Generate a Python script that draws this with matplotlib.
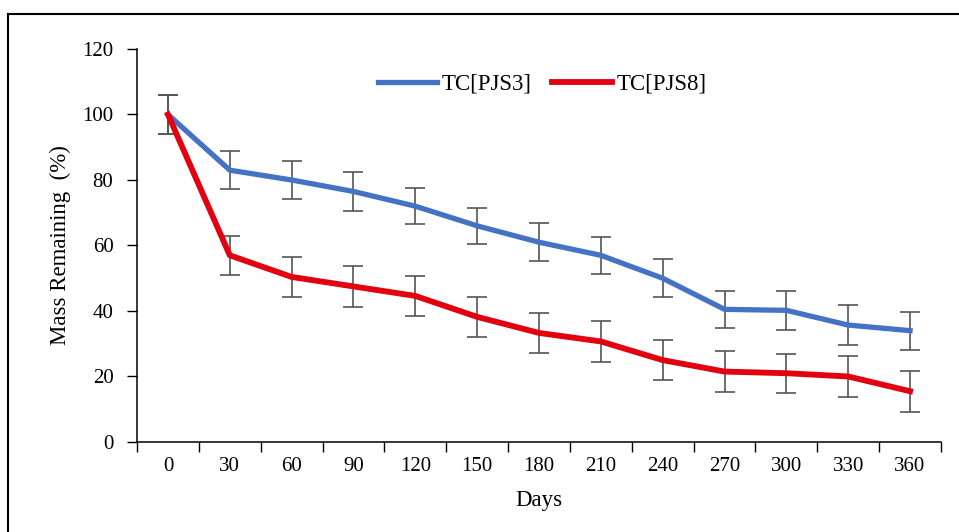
import numpy as np
import matplotlib.pyplot as plt
from matplotlib.lines import Line2D

plt.rcParams['font.family'] = ['Liberation Serif', 'DejaVu Serif']

# Данные
days = ['0', '30', '60', '90', '120', '150', '180', '210', '240', '270', '300', '330', '360']
pjs3 = [100, 83, 80, 76.5, 72, 66, 61, 57, 50, 40.5, 40.2, 35.7, 34]
pjs3_err = [6, 5.8, 5.8, 6, 5.5, 5.5, 5.8, 5.7, 5.8, 5.7, 6, 6, 5.8]
pjs8 = [100, 57, 50.4, 47.5, 44.6, 38.2, 33.3, 30.7, 25, 21.5, 21, 20, 15.5]
pjs8_err = [6, 6, 6.2, 6.2, 6.2, 6.2, 6.2, 6.2, 6.2, 6.2, 6, 6.2, 6.2]

fig = plt.figure(figsize=(9.59, 5.32), dpi=100)
ax = fig.add_axes([0.1429, 0.1692, 0.8383, 0.7387])

x = np.arange(len(days))
ax.errorbar(x, pjs3, yerr=pjs3_err, color='#4472C4', lw=3.8, ecolor='#555555',
            elinewidth=1.2, capsize=7, capthick=1.2, label='TC[PJS3]', zorder=3)
ax.errorbar(x, pjs8, yerr=pjs8_err, color='#E3000F', lw=4.2, ecolor='#555555',
            elinewidth=1.2, capsize=7, capthick=1.2, label='TC[PJS8]', zorder=3)

ax.set_xlim(-0.5, len(days) - 0.5)
ax.set_ylim(0, 120)
ax.set_yticks(np.arange(0, 121, 20))
ax.set_xticks(np.arange(-0.5, len(days), 1))
ax.set_xticklabels([])
ax.set_xticks(x, minor=True)
ax.set_xticklabels(days, minor=True)
ax.tick_params(axis='x', which='major', direction='out', length=7, width=1)
ax.tick_params(axis='x', which='minor', length=0, pad=11, labelsize=15)
ax.tick_params(axis='y', direction='out', length=7, width=1, labelsize=15, pad=10)

for s in ['top', 'right']:
    ax.spines[s].set_visible(False)
for s in ['left', 'bottom']:
    ax.spines[s].set_linewidth(1.1)

ax.set_xlabel('Days', fontsize=16.5, labelpad=10)
ax.set_ylabel('Mass Remaining  (%)', fontsize=16.5, labelpad=8)

handles = [Line2D([], [], color='#4472C4', lw=3.8),
           Line2D([], [], color='#E3000F', lw=4.2)]
ax.legend(handles, ['TC[PJS3]', 'TC[PJS8]'], loc='center',
          bbox_to_anchor=(0.504, 0.91), ncol=2, frameon=False, fontsize=16.5,
          handlelength=2.6, handletextpad=0.2, columnspacing=0.9)

# рамка
fig.add_artist(Line2D([8 / 959, 8 / 959], [0, 1 - 14 / 532], color='black', lw=1.5))
fig.add_artist(Line2D([8 / 959, 1], [1 - 14 / 532, 1 - 14 / 532], color='black', lw=1.5))

fig.savefig('out.png', dpi=100)
